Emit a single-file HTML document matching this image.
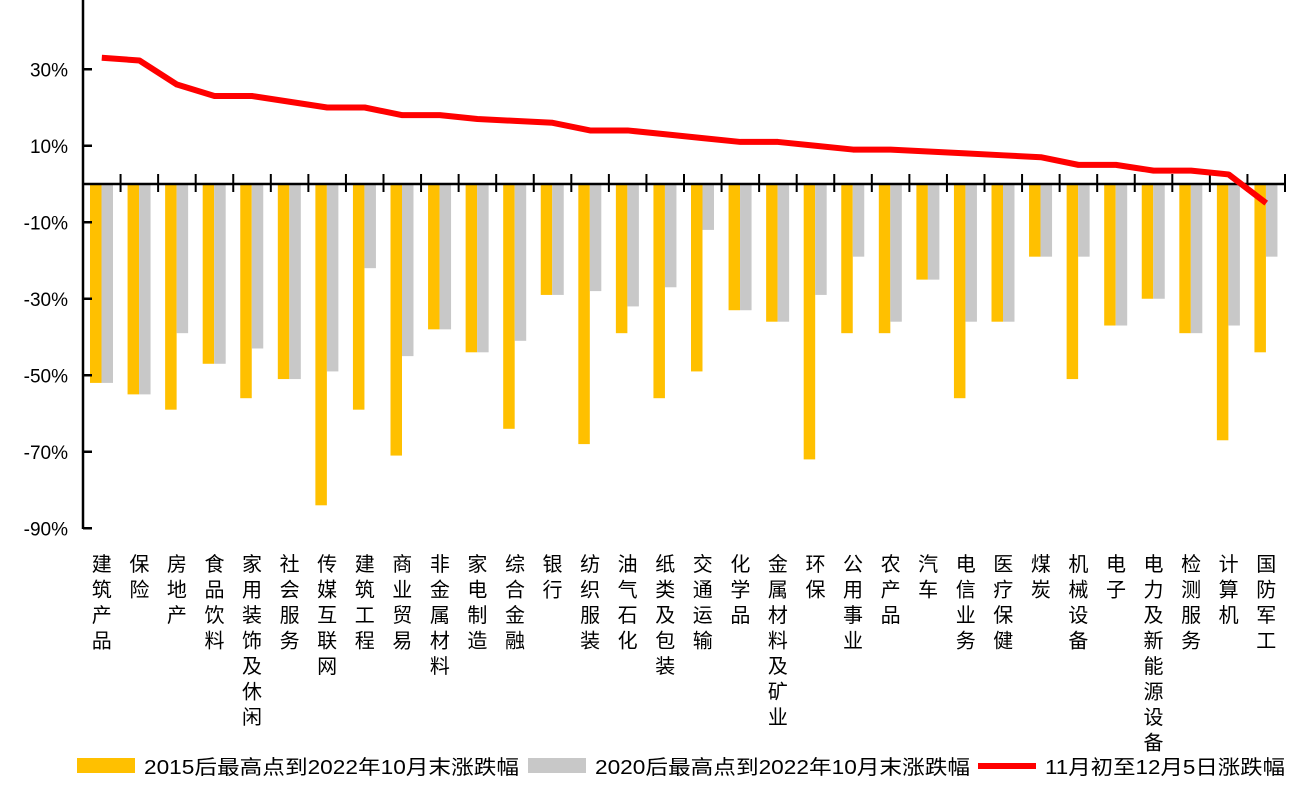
<!DOCTYPE html>
<html><head><meta charset="utf-8"><style>
body{margin:0;background:#fff;width:1296px;height:783px;overflow:hidden}
svg text{font-family:"Liberation Sans","Noto Sans CJK SC",sans-serif}
</style></head><body>
<svg id="c" width="1296" height="783"></svg>
<script>
const categories=["建筑产品","保险","房地产","食品饮料","家用装饰及休闲","社会服务","传媒互联网","建筑工程","商业贸易","非金属材料","家电制造","综合金融","银行","纺织服装","油气石化","纸类及包装","交通运输","化学品","金属材料及矿业","环保","公用事业","农产品","汽车","电信业务","医疗保健","煤炭","机械设备","电子","电力及新能源设备","检测服务","计算机","国防军工"];
const s2015=[-52,-55,-59,-47,-56,-51,-84,-59,-71,-38,-44,-64,-29,-68,-39,-56,-49,-33,-36,-72,-39,-39,-25,-56,-36,-19,-51,-37,-30,-39,-67,-44];
const s2020=[-52,-55,-39,-47,-43,-51,-49,-22,-45,-38,-44,-41,-29,-28,-32,-27,-12,-33,-36,-29,-19,-36,-25,-36,-36,-19,-19,-37,-30,-39,-37,-19];
const sNov=[33,32.3,26,23,23,21.5,20,20,18,18,17,16.5,16,14,14,13,12,11,11,10,9,9,8.5,8,7.5,7,5,5,3.5,3.5,2.5,-5];
const yTicks=[30,10,-10,-30,-50,-70,-90];
const legendLabels=["2015后最高点到2022年10月末涨跌幅","2020后最高点到2022年10月末涨跌幅","11月初至12月5日涨跌幅"];
const NS="http://www.w3.org/2000/svg";
const svg=document.getElementById('c');
const X0=83,X1=1285,n=categories.length,cw=(X1-X0)/n;
const y=v=>184-v*(76.5/20);
const xc=i=>X0+cw*(i+0.5);
function mk(t,a){const e=document.createElementNS(NS,t);for(const k in a)e.setAttribute(k,a[k]);svg.appendChild(e);return e;}
categories.forEach((c,i)=>{
  const x=X0+cw*i+7;
  let r=mk('rect',{x:x,y:Math.min(y(0),y(s2015[i])),width:11.5,height:Math.abs(y(s2015[i])-y(0)),fill:'#FFC000'});
  
  
  r=mk('rect',{x:x+11.5,y:Math.min(y(0),y(s2020[i])),width:11.5,height:Math.abs(y(s2020[i])-y(0)),fill:'#C8C8C8'});
  
  
  const t=mk('text',{x:xc(i),y:0,'font-size':20,fill:'#000','text-anchor':'middle'});
  
  
  [...c].forEach((ch,k)=>{const ts=document.createElementNS(NS,'tspan');ts.setAttribute('x',xc(i));ts.setAttribute('y',571+k*25.5);ts.textContent=ch;t.appendChild(ts);});
});
let a=mk('line',{x1:X0,y1:0,x2:X0,y2:529,stroke:'#000','stroke-width':2.5});


a=mk('line',{x1:X0,y1:y(0),x2:X1+1,y2:y(0),stroke:'#000','stroke-width':2.5});


for(let i=1;i<=n;i++){const l=mk('line',{x1:X0+cw*i,y1:y(0)-10,x2:X0+cw*i,y2:y(0)+8,stroke:'#000','stroke-width':2});
  
  }
yTicks.forEach(v=>{
  const l=mk('line',{x1:X0,y1:y(v),x2:X0+9,y2:y(v),stroke:'#000','stroke-width':2.5});
  
  
  const t=mk('text',{x:68,y:y(v)+7,'font-size':19,'text-anchor':'end',fill:'#000'});
  t.textContent=v+'%';
  
  
});
const p=mk('polyline',{points:sNov.map((v,i)=>xc(i)+','+y(v)).join(' '),fill:'none',stroke:'#FF0000','stroke-width':6,'stroke-linejoin':'round'});


const lx=[77,528,978];
const lw=[375,375,240];
legendLabels.forEach((lb,k)=>{
  let s;
  if(k<2){s=mk('rect',{x:lx[k],y:758,width:58,height:15,fill:k?'#C8C8C8':'#FFC000'});}
  else{s=mk('line',{x1:lx[k],y1:766,x2:lx[k]+58,y2:766,stroke:'#FF0000','stroke-width':6});}
  
  
  const t=mk('text',{x:lx[k]+67,y:774,'font-size':20,fill:'#000',textLength:lw[k],lengthAdjust:'spacingAndGlyphs'});
  t.textContent=lb;
  
  
});
</script>
</body></html>
